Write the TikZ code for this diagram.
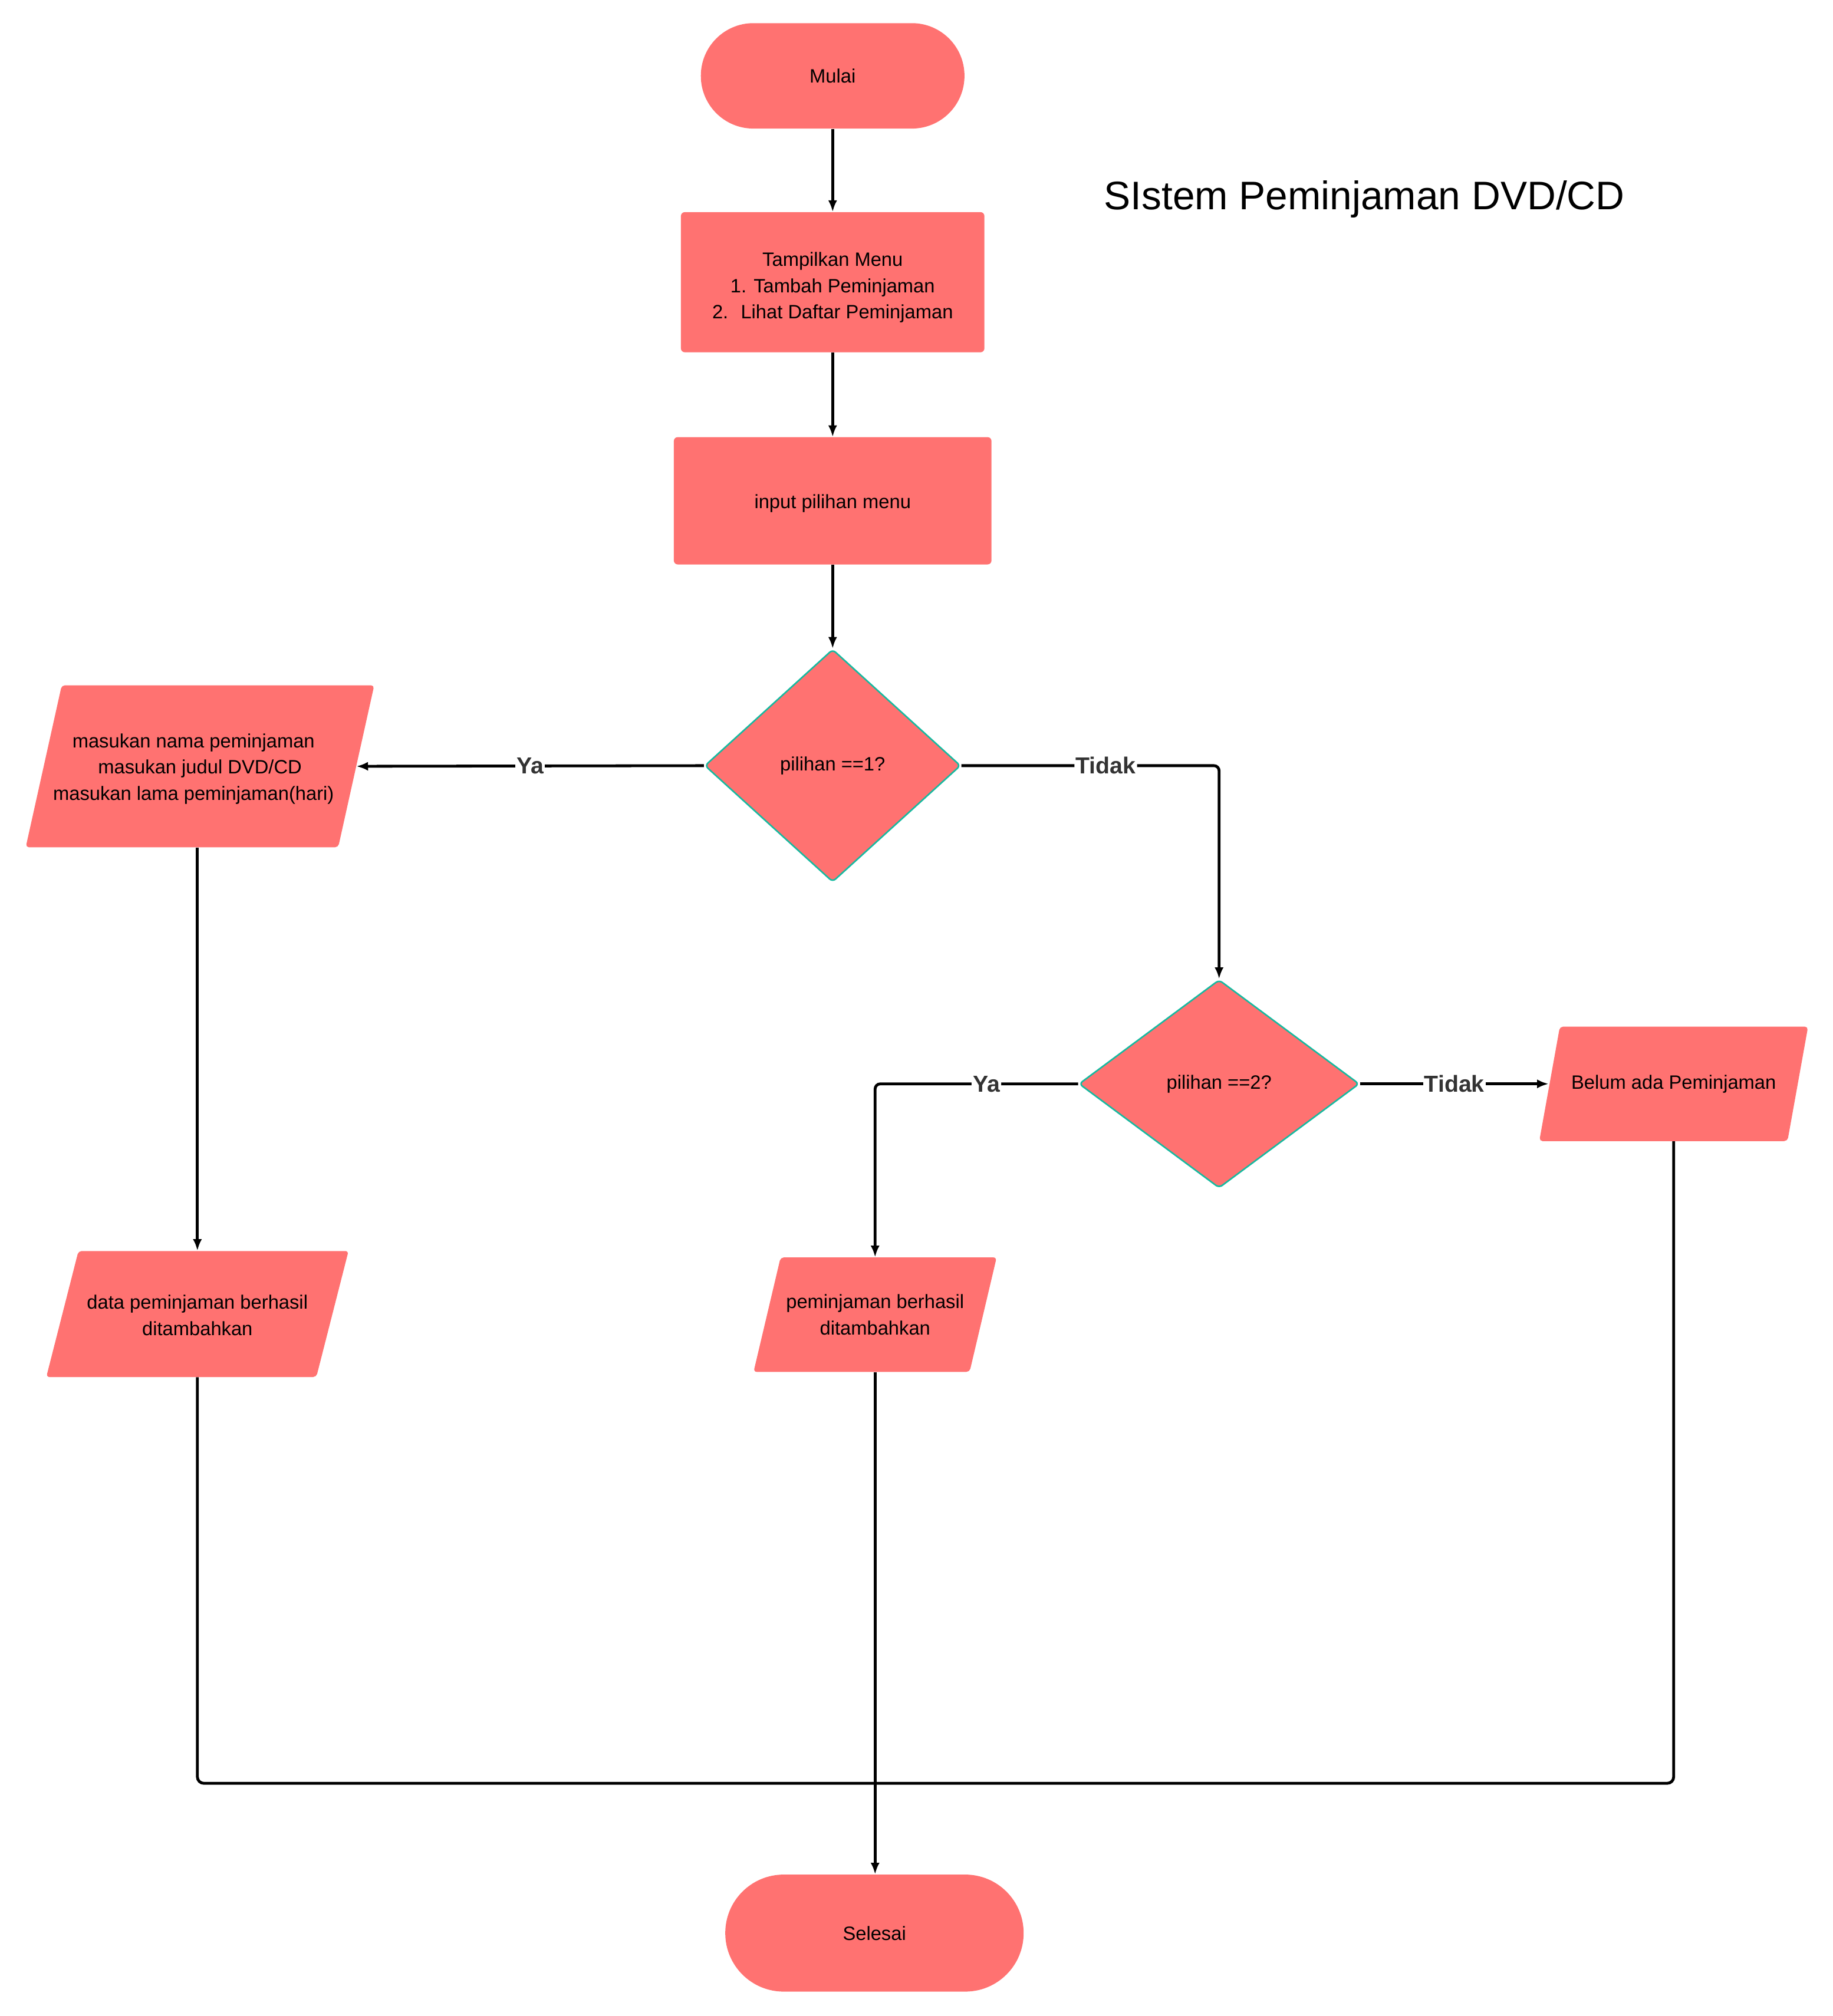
\documentclass[tikz,border=0pt]{standalone}
\usepackage{fontspec}
\setmainfont{Liberation Sans}
\usetikzlibrary{shapes.geometric,arrows.meta,calc}
\definecolor{salmon}{RGB}{255,114,113}
\definecolor{tealline}{RGB}{22,186,160}
\definecolor{lblgray}{RGB}{51,51,51}
\tikzset{
  base/.style={fill=salmon, draw=none, inner sep=0pt, align=center, font=\fontsize{15}{20.5}\selectfont},
  term/.style={base, rectangle, rounded corners=#1},
  proc/.style={base, rectangle, rounded corners=3},
  dec/.style={base, diamond, draw=tealline, line width=1.2pt, rounded corners=3},
  io/.style={base, fill=none, rectangle,
    path picture={\fill[salmon, rounded corners=2.5]
      (path picture bounding box.south west) --
      ($(path picture bounding box.north west)+(#1,0)$) --
      (path picture bounding box.north east) --
      ($(path picture bounding box.south east)+(-#1,0)$) -- cycle;}},
  conn/.style={line width=2.2pt, -{Latex[length=9pt,width=7pt]}},
  plain/.style={line width=2.2pt},
  lbl/.style={fill=white, text=lblgray, font=\bfseries\fontsize{18}{20}\selectfont, inner sep=1pt},
}
\begin{document}
\begin{tikzpicture}[x=1pt,y=-1pt]
\useasboundingbox (0,0) rectangle (1425,1568);

\node[anchor=base west, font=\fontsize{31}{36}\selectfont] (title) at (855,163) {SIstem Peminjaman DVD/CD};

\node[term=40.9, minimum width=205, minimum height=82] (start) at (647.5,59) {Mulai};
\node[proc, minimum width=236, minimum height=109] (menu) at (647.5,219.5) {\rule{0pt}{19pt}Tampilkan Menu\\1. Tambah Peminjaman\\2.~ Lihat Daftar Peminjaman};
\node[proc, minimum width=247, minimum height=99] (inp) at (647.5,389.5) {\rule{0pt}{15pt}input pilihan menu};
\node[dec, minimum width=199, minimum height=181] (d1) at (647.5,595.5) {pilihan ==1?};
\node[io=28, minimum width=271, minimum height=126] (in1) at (155.5,596) {\rule{0pt}{15pt}masukan nama peminjaman\hspace*{10pt}\\masukan judul DVD/CD\hspace*{10pt}\\masukan lama peminjaman(hari)\hspace*{10pt}};
\node[dec, minimum width=218, minimum height=162] (d2) at (948,843) {pilihan ==2?};
\node[io=16, minimum width=209, minimum height=89] (out3) at (1301.5,843) {Belum ada Peminjaman};
\node[io=25, minimum width=235, minimum height=98] (out1) at (153.5,1022) {\rule{0pt}{13pt}data peminjaman berhasil\\ditambahkan};
\node[io=21, minimum width=189, minimum height=89] (out2) at (680.5,1022.5) {peminjaman berhasil\\ditambahkan};
\node[term=45.4, minimum width=232, minimum height=91] (sel) at (680,1503.5) {Selesai};
\coordinate (j) at (680,1387);

\draw[conn] (start.south) -- (menu.north);
\draw[conn] (menu.south) -- (inp.north);
\draw[conn] (inp.south) -- (d1.north);
\draw[conn] (d1.west) -- node[lbl]{Ya} ($(in1.east)+(-14,0)$ |- d1.west);
\draw[conn, rounded corners=4] (d1.east) -| node[lbl, pos=0.28]{Tidak} (d2.north);
\draw[conn, rounded corners=4] (d2.west) -| node[lbl, pos=0.226]{Ya} (out2.north);
\draw[conn] (d2.east) -- node[lbl]{Tidak} ($(out3.west)+(7.5,0)$ |- d2.east);
\draw[conn] (in1.south -| out1.north) -- (out1.north);
\draw[conn] (out2.south) -- (out2.south |- sel.north);
\draw[plain, rounded corners=5] (out1.south) |- (j);
\draw[plain, rounded corners=5] (out3.south) |- (j);
\end{tikzpicture}
\end{document}
